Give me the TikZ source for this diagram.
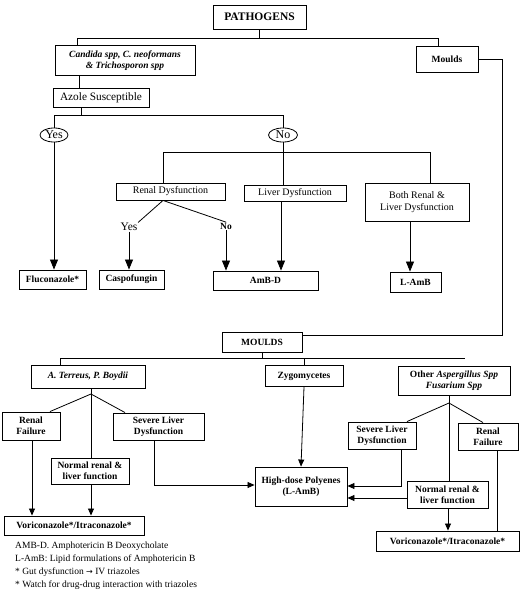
\documentclass[tikz,border=0pt]{standalone}
\usepackage{fontspec}
\setmainfont{Liberation Serif}
\newfontfamily\arrowfont{DejaVu Sans}
\usetikzlibrary{arrows.meta,shapes.geometric}
\tikzset{
  box/.style={draw, line width=0.9pt, inner sep=1pt, align=center, font=\fontsize{9.5}{11}\selectfont\bfseries},
  rbox/.style={box, font=\fontsize{10}{12}\selectfont},
  ln/.style={line width=0.8pt},
  bigarr/.style={ln, -{Triangle[length=10pt,width=8pt]}},
  smarr/.style={ln, -{Triangle[length=7pt,width=6pt]}},
  oval/.style={draw, ellipse, line width=0.8pt, inner sep=0pt, font=\fontsize{12}{12}\selectfont},
  lbl/.style={inner sep=0.5pt},
}
\begin{document}
\begin{tikzpicture}[x=1pt,y=-1pt]
\useasboundingbox (0,0) rectangle (520,591);
% ---------- top part ----------
\node[box, font=\fontsize{11.5}{13}\selectfont\bfseries, minimum width=93, minimum height=24] (path) at (259.5,17) {PATHOGENS};
\node[box, font=\fontsize{9.5}{11.5}\selectfont\bfseries\itshape, minimum width=140, minimum height=30] (cand) at (125,60.5) {Candida spp, C. neoformans\\\& Trichosporon spp};
\node[box, minimum width=62, minimum height=26] (mtop) at (447,59) {Moulds};
\node[rbox, font=\fontsize{11.3}{13}\selectfont, minimum width=96, minimum height=19] (azole) at (101,98) {Azole Susceptible};
\node[oval, minimum width=28, minimum height=14] (yes) at (54,135) {Yes};
\node[oval, minimum width=29, minimum height=14] (no) at (283,135) {No};
\node[rbox, minimum width=109, minimum height=17] (renal) at (170.5,191.5) {Renal Dysfunction};
\node[rbox, minimum width=102, minimum height=16] (liver) at (295,193) {Liver Dysfunction};
\node[rbox, minimum width=104, minimum height=38] (both) at (417,202) {Both Renal \&\\Liver Dysfunction};
\node[lbl, font=\fontsize{11.5}{12}\selectfont] (ylab) at (129,227) {Yes};
\node[lbl, font=\fontsize{9.5}{11}\selectfont\bfseries] (nlab) at (226,226) {No};
\node[box, minimum width=67, minimum height=19] (fluco) at (52.5,279.5) {Fluconazole*};
\node[box, minimum width=65, minimum height=19] (caspo) at (131.5,279.5) {Caspofungin};
\node[box, minimum width=105, minimum height=19] (ambd) at (265.5,280.5) {AmB-D};
\node[box, minimum width=51, minimum height=20] (lamb) at (415.5,282) {L-AmB};
% ---------- bottom part ----------
\node[box, minimum width=80, minimum height=20] (moulds) at (262,342) {MOULDS};
\node[box, minimum width=114, minimum height=23] (aterr) at (88,376.5) {\itshape A. Terreus, P. Boydii};
\node[box, minimum width=78, minimum height=21] (zygo) at (304,376) {Zygomycetes};
\node[box, minimum width=112, minimum height=29] (other) at (454,380.5) {Other \textit{Aspergillus Spp}\\\textit{Fusarium Spp}};
\node[box, minimum width=58, minimum height=28] (lrenal) at (31,426) {Renal\\Failure};
\node[box, minimum width=91, minimum height=27] (lsev) at (158.5,426.5) {Severe Liver\\Dysfunction};
\node[box, minimum width=78, minimum height=26] (lnorm) at (90,471) {Normal renal \&\\liver function};
\node[box, minimum width=140, minimum height=19] (lvori) at (74,525.5) {Voriconazole*/Itraconazole*};
\node[box, minimum width=92, minimum height=39] (high) at (301,486.5) {High-dose Polyenes\\(L-AmB)};
\node[box, minimum width=68, minimum height=27] (rsev) at (382,435.5) {Severe Liver\\Dysfunction};
\node[box, minimum width=60, minimum height=27] (rrenal) at (488,436.5) {Renal\\Failure};
\node[box, minimum width=81, minimum height=27] (rnorm) at (447.5,494.5) {Normal renal \&\\liver function};
\node[box, minimum width=143, minimum height=20] (rvori) at (447.5,541) {Voriconazole*/Itraconazole*};
% footnotes
\node[anchor=north west, inner sep=0pt, align=left, font=\fontsize{9.5}{13}\selectfont] (notes) at (15,542)
  {AMB-D. Amphotericin B Deoxycholate\\
   L-AmB: Lipid formulations of Amphotericin B\\
   * Gut dysfunction {\arrowfont\fontsize{8}{13}\selectfont →} IV triazoles\\
   * Watch for drug-drug interaction with triazoles};
% ---------- coordinates ----------
\coordinate (tl) at (77,38);
\coordinate (tr) at (438,38);
\coordinate (cx) at (79,0);
\coordinate (ax) at (81,115);
\coordinate (yl) at (54,115);
\coordinate (nl) at (283,115);
\coordinate (nh) at (283,152);
\coordinate (rl) at (163,152);
\coordinate (br) at (430,152);
\coordinate (lx) at (281,0);
\coordinate (bx) at (410,0);
\coordinate (rfan) at (163,200);
\coordinate (mr) at (502,335);
\coordinate (mh) at (262,358);
\coordinate (hl) at (60,358);
\coordinate (hr) at (465,358);
\coordinate (zx) at (304,358);
\coordinate (lapex) at (91,394);
\coordinate (rapex) at (449,403);
\coordinate (lrx) at (32,0);
\coordinate (lsx) at (154,485);
\coordinate (rsx) at (401,486);
\coordinate (rny) at (0,498);
\coordinate (rnx) at (448,0);
\coordinate (rrx) at (497,0);
% ---------- connectors: top ----------
\draw[ln] (path.south) -- (path.south |- tl);
\draw[ln] (cand.north -| tl) -- (tl) -- (tr) -- (mtop.north -| tr);
\draw[ln] (mtop.east) -- (mtop.east -| mr) -- (mr) -- (mr -| moulds.east);
\draw[ln] (cand.south -| cx) -- (azole.north -| cx);
\draw[ln] (azole.south -| ax) -- (ax);
\draw[ln] (yes.north) -- (yl) -- (nl) -- (no.north);
\draw[bigarr] (yes.south) -- (fluco.north -| yes.south);
\draw[ln] (no.south) -- (nh);
\draw[ln] (renal.north -| rl) -- (rl) -- (br) -- (both.north -| br);
\draw[ln] (nh) -- (liver.north -| nh);
\draw[ln] (renal.south -| rfan) -- (ylab.north east);
\draw[ln] (renal.south -| rfan) -- (nlab.north);
\draw[bigarr] (ylab.south) -- (caspo.north -| ylab.south);
\draw[bigarr] (nlab.south) -- (ambd.north -| nlab.south);
\draw[bigarr] (liver.south -| lx) -- (ambd.north -| lx);
\draw[bigarr] (both.south -| bx) -- (lamb.north -| bx);
% ---------- connectors: bottom ----------
\draw[ln] (moulds.south) -- (mh);
\draw[ln] (aterr.north -| hl) -- (hl) -- (hr);
\draw[ln] (zx) -- (zygo.north);
\draw[ln] (aterr.south -| lapex) -- (lapex);
\draw[ln] (lapex) -- ([xshift=19pt]lrenal.north);
\draw[ln] (lapex) -- ([xshift=-33.5pt]lsev.north);
\draw[ln] (lapex) -- (lnorm.north -| lapex);
\draw[smarr] (lrenal.south -| lrx) -- (lvori.north -| lrx);
\draw[smarr] (lnorm.south -| lapex) -- (lvori.north -| lapex);
\draw[smarr] (lsev.south -| lsx) -- (lsx) -- (high.west |- lsx);
\draw[smarr] (zygo.south) -- (high.north);
\draw[ln] (other.south -| rapex) -- (rapex);
\draw[ln] (rapex) -- ([xshift=25pt]rsev.north);
\draw[ln] (rapex) -- ([xshift=-5pt]rrenal.north);
\draw[ln] (rapex) -- (rnorm.north -| rapex);
\draw[smarr] (rsev.south -| rsx) -- (rsx) -- (high.east |- rsx);
\draw[smarr] (rnorm.west |- rny) -- (high.east |- rny);
\draw[smarr] (rnorm.south -| rnx) -- (rvori.north -| rnx);
\draw[ln] (rrenal.south -| rrx) -- (rvori.north -| rrx);
\end{tikzpicture}
\end{document}
